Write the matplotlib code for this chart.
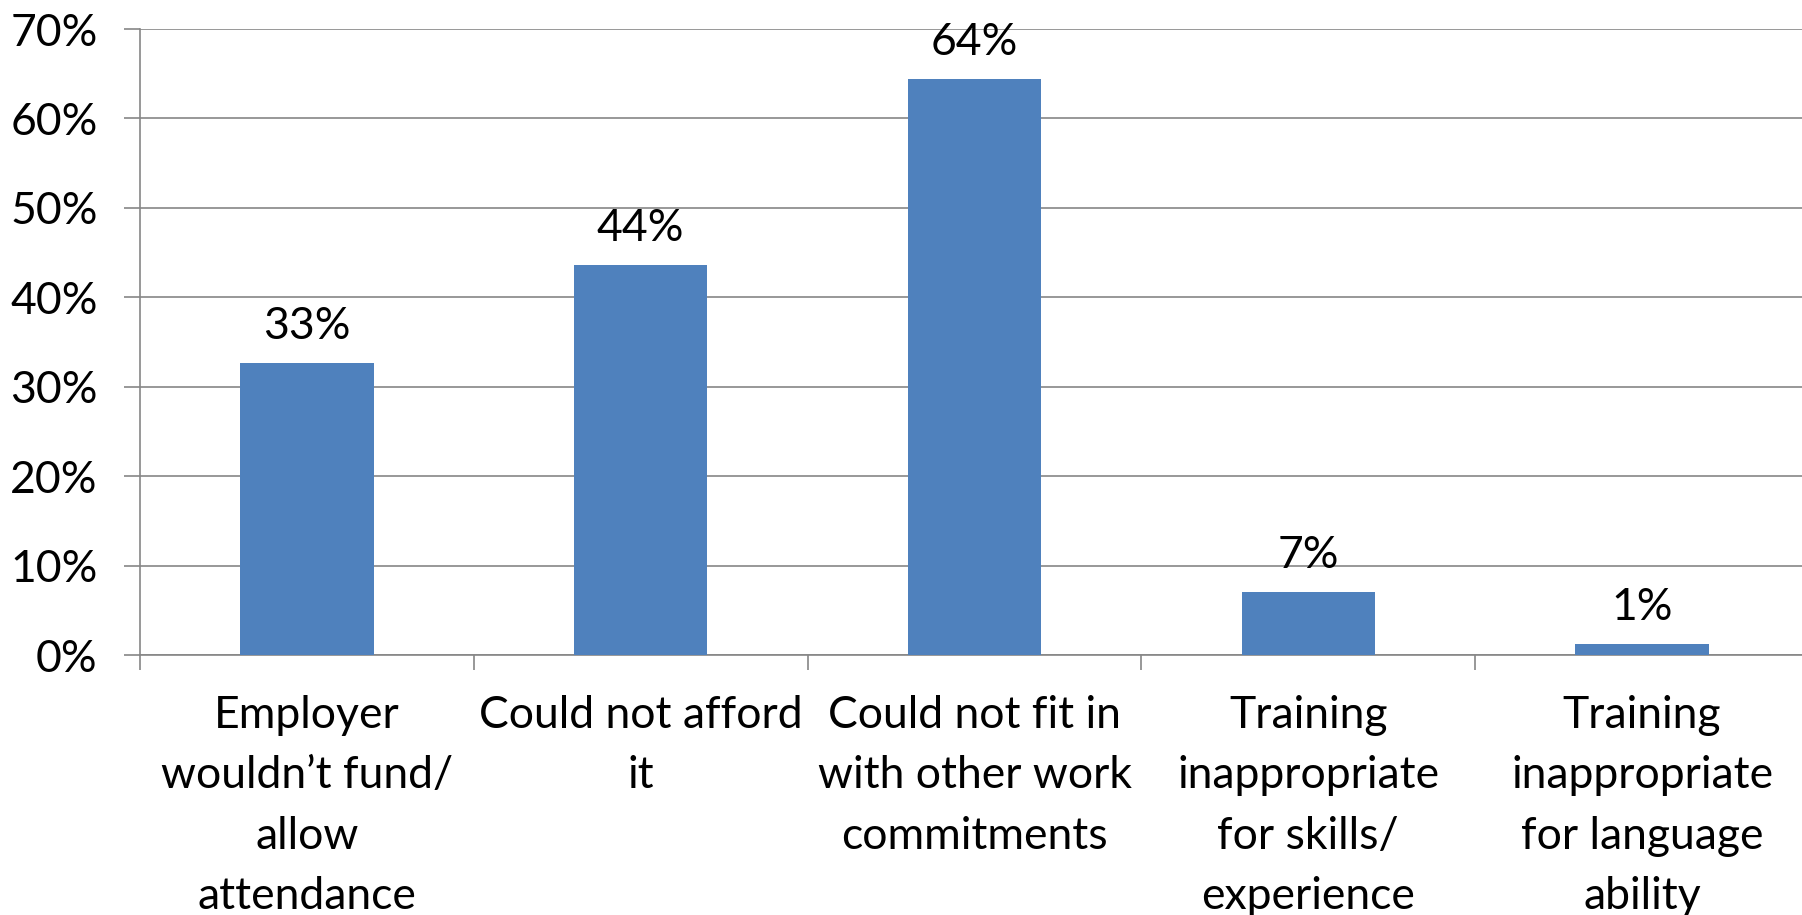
import matplotlib
matplotlib.use("Agg")
import matplotlib.pyplot as plt
from matplotlib.ticker import FixedLocator, PercentFormatter

plt.rcParams['font.family'] = ['Lato', 'DejaVu Sans']

# reasons for not attending training, share of respondents (%)
reasons = [
    "Employer\nwouldn\u2019t fund/\nallow\nattendance",
    "Could not afford\nit",
    "Could not fit in\nwith other work\ncommitments",
    "Training\ninappropriate\nfor skills/\nexperience",
    "Training\ninappropriate\nfor language\nability",
]
shares = [32.7, 43.6, 64.4, 7.05, 1.27]
y_ticks = [0, 10, 20, 30, 40, 50, 60, 70]

bar_color = "#4F81BD"
grid_color = "#868686"
fsize = 32

fig = plt.figure(figsize=(18.02, 9.15), dpi=100)
ax = fig.add_axes([140 / 1802, 1 - 655 / 915, 1669 / 1802, 626 / 915])

x = list(range(len(reasons)))
bars = ax.bar(x, shares, width=0.4, color=bar_color, zorder=3)

# value labels above each bar
for b, v in zip(bars, shares):
    ax.annotate(f"{v:.0f}%", (b.get_x() + b.get_width() / 2, v),
                xytext=(0, 17), textcoords="offset points",
                ha="center", va="baseline", fontsize=fsize)

ax.set_xlim(-0.5, len(reasons) - 0.5)
ax.set_ylim(0, 70)
ax.set_yticks(y_ticks)
ax.yaxis.set_major_formatter(PercentFormatter(decimals=0))
ax.yaxis.grid(True, color=grid_color, linewidth=1.2, zorder=0)

# category labels between boundary tick marks
ax.set_xticks(x)
ax.set_xticklabels(reasons, fontsize=fsize, linespacing=1.58)
ax.xaxis.set_minor_locator(FixedLocator([i - 0.5 for i in range(len(reasons) + 1)]))
ax.tick_params(axis="x", which="major", length=0, pad=29)
ax.tick_params(axis="x", which="minor", length=11, width=1.2, color=grid_color)
ax.tick_params(axis="y", length=11.5, width=1.2, color=grid_color,
               labelsize=fsize, pad=19)

for side in ["top", "right"]:
    ax.spines[side].set_visible(False)
for side in ["left", "bottom"]:
    ax.spines[side].set_color(grid_color)
    ax.spines[side].set_linewidth(1.2)

fig.savefig("out.png", dpi=100)
